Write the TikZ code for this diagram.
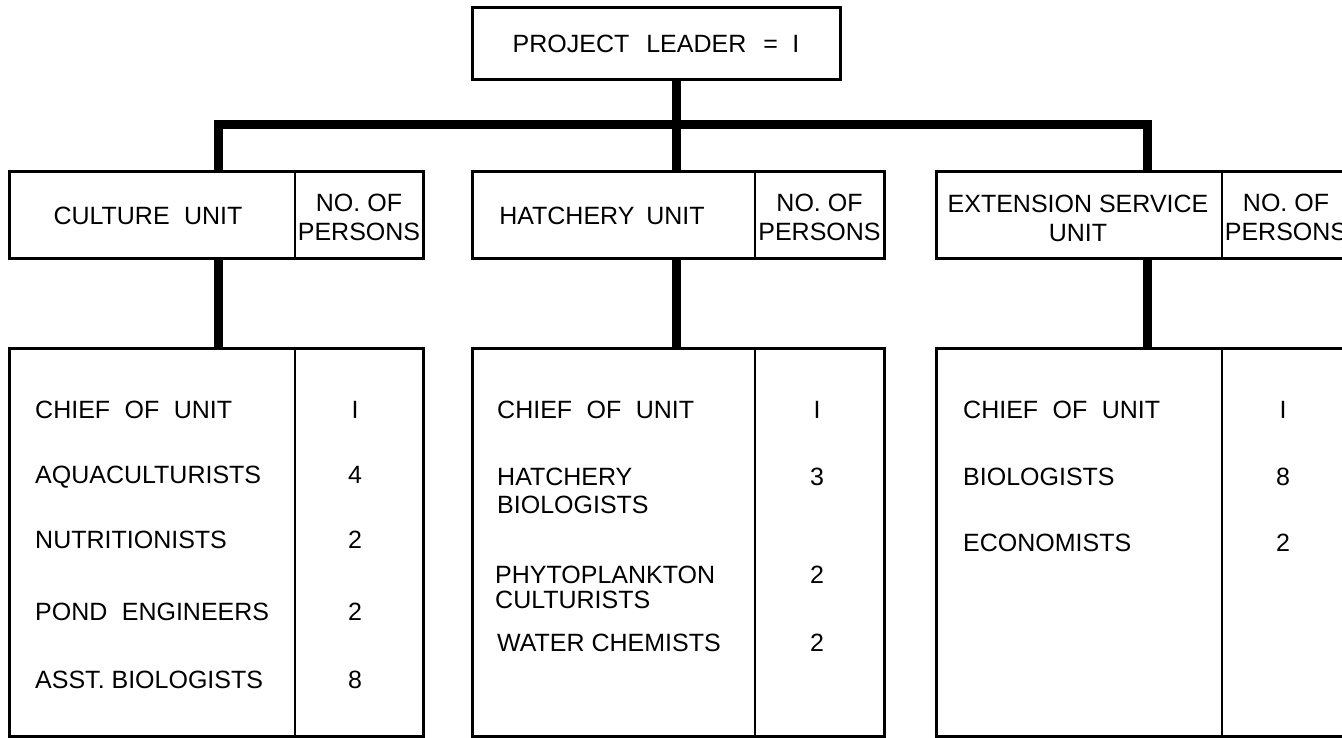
\documentclass[tikz,border=0pt]{standalone}
\usepackage{fontspec}
\setmainfont{Liberation Sans}
\usetikzlibrary{positioning}

\tikzset{
  unitbox/.style={draw, line width=3pt, inner sep=0pt},
  divider/.style={line width=2pt},
  trunk/.style={line width=9pt},
  entry/.style={anchor=north west, inner sep=0pt, align=left},
  count/.style={anchor=north, inner sep=0pt},
  colhead/.style={inner sep=0pt, align=center}
}

\begin{document}
\begin{tikzpicture}[x=1pt, y=-1pt, every node/.style={font=\fontsize{25}{28}\selectfont}]
  \useasboundingbox (0,0) rectangle (1342,738);
  \clip (0,0) rectangle (1342,738);

  \node[unitbox, minimum width=368pt, minimum height=72pt] (leader) at (656,44)
    {PROJECT\hspace{0.4em} LEADER\hspace{0.4em} =\hspace{0.3em} I};

  % unit boxes: name / left / divider / right / stem
  \foreach \n/\l/\d/\r/\s in {cu/9/295/423/218, ha/472/755/884/676, ex/936/1222/1350/1147} {
    \node[unitbox, minimum width={(\r-\l)*1pt}, minimum height=87pt] (\n-head) at ({(\l+\r)/2},215.5) {};
    \node[unitbox, minimum width={(\r-\l)*1pt}, minimum height=388pt] (\n-list) at ({(\l+\r)/2},542) {};
    \draw[divider] (\d,172) -- (\d,259);
    \draw[divider] (\d,348) -- (\d,736);
    \coordinate (\n-stem) at (\s,0);
    \node[colhead, font=\fontsize{25}{29}\selectfont] (\n-no) at ({(\d+\r)/2},217.5) {NO. OF\\PERSONS};
    \draw[trunk] (\n-head.south -| \n-stem) -- (\n-list.north -| \n-stem);
  }

  \node[colhead] (cu-name) at (148,216) {CULTURE\hspace{0.3em} UNIT};
  \node[colhead] (ha-name) at (602,216) {HATCHERY\hspace{0.2em} UNIT};
  \node[colhead, font=\fontsize{25}{29}\selectfont] (ex-name) at (1078,218.5) {EXTENSION SERVICE\\UNIT};

  % connectors
  \coordinate (bar) at (0,125);
  \draw[trunk] (cu-head.north -| cu-stem) -- (bar -| cu-stem) -- (bar -| ex-stem) -- (ex-head.north -| ex-stem);
  \draw[trunk] (leader.south -| ha-stem) -- (ha-head.north -| ha-stem);

  % culture unit
  \node[entry] (cu-a) at (35,401) {CHIEF\hspace{0.3em} OF\hspace{0.3em} UNIT};
  \node[entry] (cu-b) at (35,466) {AQUACULTURISTS};
  \node[entry] (cu-c) at (35,531) {NUTRITIONISTS};
  \node[entry] (cu-d) at (35,603) {POND\hspace{0.3em} ENGINEERS};
  \node[entry] (cu-e) at (35,671) {ASST. BIOLOGISTS};
  \node[count] (cu-na) at (355,401) {I};
  \node[count] (cu-nb) at (355,466) {4};
  \node[count] (cu-nc) at (355,531) {2};
  \node[count] (cu-nd) at (355,603) {2};
  \node[count] (cu-ne) at (355,671) {8};

  % hatchery unit
  \node[entry] (ha-a) at (497,401) {CHIEF\hspace{0.3em} OF\hspace{0.3em} UNIT};
  \node[entry] (ha-b) at (497,468) {HATCHERY\\BIOLOGISTS};
  \node[entry, font=\fontsize{25}{25}\selectfont] (ha-c) at (495,566) {PHYTOPLANKTON\\CULTURISTS};
  \node[entry] (ha-d) at (497,634) {WATER CHEMISTS};
  \node[count] (ha-na) at (817,401) {I};
  \node[count] (ha-nb) at (817,468) {3};
  \node[count] (ha-nc) at (817,566) {2};
  \node[count] (ha-nd) at (817,634) {2};

  % extension service unit
  \node[entry] (ex-a) at (963,401) {CHIEF\hspace{0.3em} OF\hspace{0.3em} UNIT};
  \node[entry] (ex-b) at (963,468) {BIOLOGISTS};
  \node[entry] (ex-c) at (963,534) {ECONOMISTS};
  \node[count] (ex-na) at (1283,401) {I};
  \node[count] (ex-nb) at (1283,468) {8};
  \node[count] (ex-nc) at (1283,534) {2};
\end{tikzpicture}
\end{document}
